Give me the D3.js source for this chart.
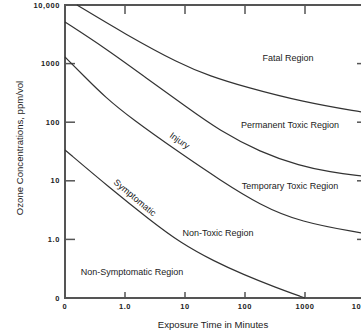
<!DOCTYPE html>
<html>
<head>
<meta charset="utf-8">
<script src="https://cdn.jsdelivr.net/npm/d3@7"></script>
<style>
	body { margin: 0; background: #fff; }
	text { font-family: "Liberation Sans", Arial, sans-serif; fill: #222; }
</style>
</head>
<body>
<svg id="chart"></svg>
<script>
// exposure time (minutes) vs ozone concentration (ppm/vol), log-log, "0" sits at 0.1
const xTicks = [0.1, 1, 10, 100, 1000, 10000];
const xTickLabels = ["0", "1.0", "10", "100", "1000", "10,000"];
const yTicks = [0.1, 1, 10, 100, 1000, 10000];
const yTickLabels = ["0", "1.0", "10", "100", "1000", "10,000"];

// boundary curves [minutes, ppm]
const fatalLine = [[0.158, 10000], [1, 3200], [8.25, 985], [26.1, 614], [100, 399], [926, 221], [8577, 149], [10000, 147]];
const permanentLine = [[0.1, 5129], [0.464, 1846], [2.15, 590], [10, 189], [38.3, 70.8], [178, 31], [826, 17.9], [2610, 14.1], [8577, 12.1], [10000, 12]];
const injuryLine = [[0.1, 1297], [0.215, 590], [0.464, 269], [1.31, 113], [8.25, 29.8], [38.3, 10.3], [178, 3.86], [826, 1.98], [8577, 1.29], [10000, 1.27]];
const symptomLine = [[0.1, 33.6], [0.56, 7.54], [2.61, 2.14], [8.25, 0.885], [31.6, 0.416], [92.6, 0.254], [316, 0.153], [1000, 0.1]];

const regionNames = ["Fatal Region", "Permanent Toxic Region", "Temporary Toxic Region", "Non-Toxic Region", "Non-Symptomatic Region"];
const regionPos = [[521, 1247], [562, 89.5], [562, 8.15], [35.5, 1.29], [1.31, 0.278]];

const curveNames = ["Injury", "Symptomatic"];
const curvePos = [[7.64, 44], [1.36, 4.7]];
const curveAngles = [35, 40];

let canvas = {"width": 361, "height": 332,
	"marginLeft": 65, "marginTop": 5, "marginRight": -4, "marginBottom": 34};

const svg = d3.select("#chart")
	.attr("width", canvas.width)
	.attr("height", canvas.height);

const xScale = d3.scaleLog()
	.domain([0.1, 10000])
	.range([canvas.marginLeft, canvas.width - canvas.marginRight]);

const yScale = d3.scaleLog()
	.domain([0.1, 10000])
	.range([canvas.height - canvas.marginBottom, canvas.marginTop]);

const axisColor = "#555";

// frame
svg.append("rect")
	.attr("x", xScale(0.1))
	.attr("y", yScale(10000))
	.attr("width", xScale(10000) - xScale(0.1))
	.attr("height", yScale(0.1) - yScale(10000))
	.attr("fill", "none")
	.attr("stroke", axisColor)
	.attr("stroke-width", 2);

// ticks
svg.selectAll(".ytick")
	.data(yTicks.slice(1, -1))
	.join("line")
	.attr("class", "ytick")
	.attr("x1", xScale(0.1)).attr("x2", xScale(0.1) + 10)
	.attr("y1", d => yScale(d)).attr("y2", d => yScale(d))
	.attr("stroke", axisColor).attr("stroke-width", 1.5);

svg.selectAll(".ytickR")
	.data(yTicks.slice(1, -1))
	.join("line")
	.attr("class", "ytickR")
	.attr("x1", xScale(10000)).attr("x2", xScale(10000) - 8)
	.attr("y1", d => yScale(d)).attr("y2", d => yScale(d))
	.attr("stroke", axisColor).attr("stroke-width", 1.5);

svg.selectAll(".xtick")
	.data(xTicks.slice(1, -1))
	.join("line")
	.attr("class", "xtick")
	.attr("x1", d => xScale(d)).attr("x2", d => xScale(d))
	.attr("y1", yScale(0.1)).attr("y2", yScale(0.1) - 6)
	.attr("stroke", axisColor).attr("stroke-width", 1.5);

svg.selectAll(".xtickT")
	.data(xTicks.slice(1, -1))
	.join("line")
	.attr("class", "xtickT")
	.attr("x1", d => xScale(d)).attr("x2", d => xScale(d))
	.attr("y1", yScale(10000)).attr("y2", yScale(10000) + 9)
	.attr("stroke", axisColor).attr("stroke-width", 1.5);

// tick labels
svg.selectAll(".ylab")
	.data(yTicks)
	.join("text")
	.attr("class", "ylab")
	.text((d, i) => yTickLabels[i])
	.attr("x", xScale(0.1) - 5)
	.attr("y", d => yScale(d) + 2.5)
	.attr("text-anchor", "end")
	.attr("font-size", 7.5)
	.attr("font-weight", "bold")
	.attr("letter-spacing", 0.6);

svg.selectAll(".xlab")
	.data(xTicks)
	.join("text")
	.attr("class", "xlab")
	.text((d, i) => xTickLabels[i])
	.attr("x", d => xScale(d))
	.attr("y", yScale(0.1) + 11)
	.attr("text-anchor", "middle")
	.attr("font-size", 7.5)
	.attr("font-weight", "bold")
	.attr("letter-spacing", 0.6);

// axis titles
svg.append("text")
	.text("Exposure Time in Minutes")
	.attr("x", 213)
	.attr("y", 328)
	.attr("text-anchor", "middle")
	.attr("font-size", 9.6);

svg.append("text")
	.text("Ozone Concentrations, ppm/vol")
	.attr("transform", "translate(23, 148) rotate(-90)")
	.attr("text-anchor", "middle")
	.attr("font-size", 9.6);

// curves - b-spline smooths out the hand-read points
const line = d3.line()
	.x(d => xScale(d[0]))
	.y(d => yScale(d[1]))
	.curve(d3.curveBasis);

svg.selectAll(".boundary")
	.data([fatalLine, permanentLine, injuryLine, symptomLine])
	.join("path")
	.attr("class", "boundary")
	.attr("d", line)
	.attr("fill", "none")
	.attr("stroke", "#333")
	.attr("stroke-width", 1.2);

// region labels
svg.selectAll(".region")
	.data(regionNames)
	.join("text")
	.attr("class", "region")
	.text(d => d)
	.attr("x", (d, i) => xScale(regionPos[i][0]))
	.attr("y", (d, i) => yScale(regionPos[i][1]) + 3)
	.attr("text-anchor", "middle")
	.attr("font-size", 9);

// labels along curves
svg.selectAll(".curveLabel")
	.data(curveNames)
	.join("text")
	.attr("class", "curveLabel")
	.text(d => d)
	.attr("transform", (d, i) => `translate(${xScale(curvePos[i][0])}, ${yScale(curvePos[i][1])}) rotate(${curveAngles[i]})`)
	.attr("text-anchor", "middle")
	.attr("font-size", 9);
</script>
</body>
</html>
